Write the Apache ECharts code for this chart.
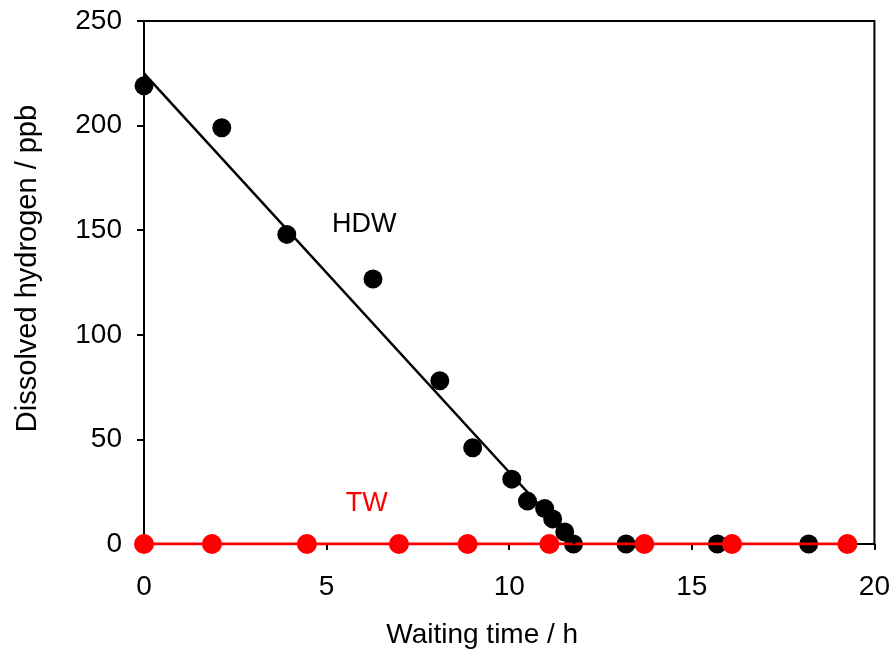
<!DOCTYPE html>
<html>
<head>
<meta charset="utf-8">
<script src="https://cdn.jsdelivr.net/npm/echarts@6/dist/echarts.min.js"></script>
<style>html,body{margin:0;padding:0;background:#fff}#c{width:893px;height:654px}</style>
</head>
<body>
<div id="c"></div>
<script>
// HDW measured points [time h, ppb]
const hdwTime = [0, 2.13, 3.91, 6.27, 8.1, 9.0, 10.07, 10.5, 10.97, 11.19, 11.52, 11.76, 13.2, 15.7, 18.2];
const hdwValue = [219, 199, 148, 126.7, 78, 46, 31, 20.5, 17, 12, 5.7, 0, 0, 0, 0];
// HDW linear fit end points
const fitTime = [0, 11.8];
const fitValue = [225, 0];
// TW measured points
const twTime = [0, 1.86, 4.46, 6.98, 8.86, 11.1, 13.7, 16.1, 19.26];
const twValue = [0, 0, 0, 0, 0, 0, 0, 0, 0];
// annotations
const labelText = ['HDW', 'TW'];
const labelPos = [[6.03, 152.9], [6.1, 19.3]];
const labelColor = ['#000000', '#ff0000'];
const xTicks = [0, 5, 10, 15, 20];
const yTicks = [0, 50, 100, 150, 200, 250];

const font = 'Liberation Sans, Arial, sans-serif';
const zip = (a, b) => a.map((v, i) => [v, b[i]]);

const chart = echarts.init(document.getElementById('c'), null, {renderer: 'canvas'});
chart.setOption({
  backgroundColor: '#fff',
  animation: false,
  grid: {left: 144, right: 18, top: 21, bottom: 108, show: true, borderColor: '#000', borderWidth: 2, backgroundColor: 'transparent'},
  xAxis: {
    type: 'value', min: xTicks[0], max: xTicks[xTicks.length - 1], interval: 5,
    name: 'Waiting time / h', nameLocation: 'middle', nameGap: 77,
    nameTextStyle: {fontFamily: font, fontSize: 28, color: '#000', padding: [0, 54, 0, 0]},
    axisLine: {lineStyle: {color: '#000', width: 2}},
    axisTick: {show: true, length: 6, lineStyle: {color: '#000', width: 2}},
    axisLabel: {margin: 29, fontFamily: font, fontSize: 28, color: '#000'},
    splitLine: {show: false}
  },
  yAxis: {
    type: 'value', min: yTicks[0], max: yTicks[yTicks.length - 1], interval: 50,
    name: 'Dissolved hydrogen / ppb', nameLocation: 'middle', nameGap: 102,
    nameTextStyle: {fontFamily: font, fontSize: 29, color: '#000', padding: [0, 0, 0, 28]},
    axisLine: {lineStyle: {color: '#000', width: 2}},
    axisTick: {show: true, length: 7, lineStyle: {color: '#000', width: 2}},
    axisLabel: {margin: 22, fontFamily: font, fontSize: 28, color: '#000'},
    splitLine: {show: false}
  },
  series: [
    {
      name: 'TW', type: 'line', data: zip(twTime, twValue),
      symbol: 'circle', symbolSize: 20, showAllSymbol: true,
      itemStyle: {color: '#ff0000', opacity: 1}, lineStyle: {color: '#ff0000', width: 3}
    },
    {
      name: 'HDW fit', type: 'line', data: zip(fitTime, fitValue),
      showSymbol: false, symbol: 'none',
      lineStyle: {color: '#000', width: 2.5}
    },
    {
      name: 'HDW', type: 'scatter', data: zip(hdwTime, hdwValue),
      symbol: 'circle', symbolSize: 19, itemStyle: {color: '#000', opacity: 1}
    },
    {
      name: 'labels', type: 'scatter', symbolSize: 0, silent: true,
      itemStyle: {opacity: 1},
      data: labelText.map((t, i) => ({
        value: labelPos[i],
        label: {show: true, position: 'inside', formatter: t, color: labelColor[i], fontFamily: font, fontSize: 27}
      }))
    }
  ]
});
</script>
</body>
</html>
